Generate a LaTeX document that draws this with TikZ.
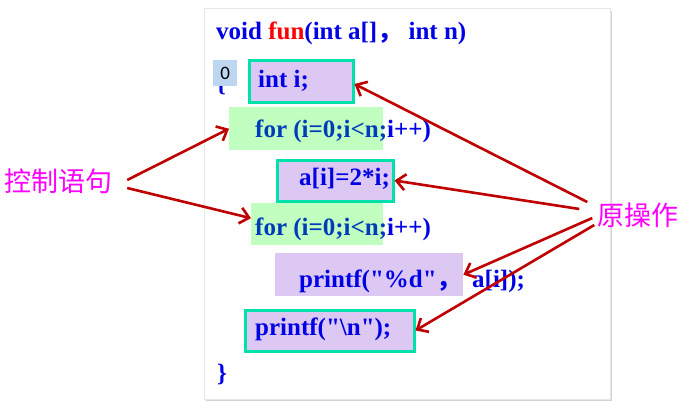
\documentclass[tikz,border=0pt]{standalone}
\usepackage{fontspec}
\setmainfont{Liberation Serif}
\newfontfamily\qfont{Liberation Serif}[Ligatures=TeXOff]
\newfontfamily\cjk{Noto Sans CJK SC}
\newfontfamily\calfont{Carlito}
\usetikzlibrary{arrows.meta}
\newcommand\dq{{\qfont\bfseries\symbol{34}}}
\definecolor{codeblue}{RGB}{0,0,230}
\definecolor{darkcode}{RGB}{0,60,185}
\definecolor{funred}{RGB}{255,0,0}
\definecolor{greenbg}{RGB}{192,255,192}
\definecolor{purplebg}{RGB}{220,200,243}
\definecolor{tealline}{RGB}{0,224,170}
\definecolor{arrowred}{RGB}{192,0,0}
\definecolor{zerobg}{RGB}{190,215,240}
\definecolor{labelmag}{RGB}{255,0,255}
\tikzset{
  code/.style={anchor=base west, inner sep=0pt, font=\fontsize{25}{28}\selectfont\bfseries, text=codeblue},
  greenbox/.style={anchor=north west, fill=greenbg, draw=none, inner sep=0pt},
  plainbox/.style={anchor=north west, fill=purplebg, draw=none, inner sep=0pt},
  opbox/.style={anchor=north west, fill=purplebg, draw=tealline, line width=3pt, inner sep=0pt},
  label/.style={inner sep=0pt, text=labelmag, font=\cjk\fontsize{27}{30}\selectfont},
  arr/.style={draw=arrowred, line width=2.6pt, -{Straight Barb[length=9pt,width=16pt,line width=2.6pt]}}
}
\begin{document}
\begin{tikzpicture}[x=1pt,y=-1pt]
\useasboundingbox (0,0) rectangle (686,402);
% panel
\fill[gray!35] (206,11) rectangle (612,401);
\node[anchor=north west, draw=gray!18, fill=white, line width=1pt, minimum width=406pt, minimum height=391pt, inner sep=0pt] (panel) at (204,8) {};
% header
\node[code] (head) at (216,39) {void {\color{funred}fun}(int a[]{\cjk ，} int n)};
% brace (mostly hidden behind the small box)
\node[code] (lbrace) at (216,91) {\{};
\node[anchor=north west, fill=zerobg, minimum width=24pt, minimum height=26pt, inner sep=0pt, font=\calfont\fontsize{19}{22}\selectfont] (zero) at (213,60) {0};
% boxes
\node[opbox, minimum width=104pt, minimum height=42pt] (ib) at (247.5,58.5) {};
\node[greenbox, minimum width=154pt, minimum height=43pt] (g1) at (229,107) {};
\node[opbox, minimum width=116pt, minimum height=41pt] (ab) at (275.5,158.5) {};
\node[greenbox, minimum width=132pt, minimum height=42pt] (g2) at (251,203) {};
\node[plainbox, minimum width=188pt, minimum height=43pt] (pb) at (275,253) {};
\node[opbox, minimum width=169pt, minimum height=41pt] (nb) at (243.5,308.5) {};
% code text
\node[code] (t1) at (258,87) {int i;};
\node[code] (t2) at (255,137) {{\color{darkcode}for (i=0;i<n;}i++)};
\node[code] (t3) at (299,185) {a[i]=2*i;};
\node[code] (t4) at (255,235) {{\color{darkcode}for (i=0;i<n;}i++)};
\node[code] (t5) at (299,287) {printf(\dq\%d\dq{\cjk ，}};
\node[code] (t5b) at (472,287) {a[i]);};
\node[code] (t6) at (255,335) {printf(\dq\textbackslash n\dq);};
\node[code] (rbrace) at (217,381) {\}};
% labels
\node[label] (ctrl) at (59,181) {控制语句};
\node[label] (op) at (638,215) {原操作};
% arrows
\draw[arr] ([xshift=14pt,yshift=1pt]ctrl.east) -- (g1.west);
\draw[arr] ([xshift=14pt,yshift=-7pt]ctrl.east) -- ([yshift=6pt]g2.west);
\draw[arr] ([xshift=-10pt,yshift=13pt]op.west) -- ([yshift=-3pt]ib.east);
\draw[arr] ([xshift=-18pt,yshift=6pt]op.west) -- (ab.east);
\draw[arr] ([xshift=-5pt,yshift=-3pt]op.west) -- (pb.east);
\draw[arr] ([xshift=-3pt,yshift=-10pt]op.west) -- (nb.east);
\end{tikzpicture}
\end{document}
